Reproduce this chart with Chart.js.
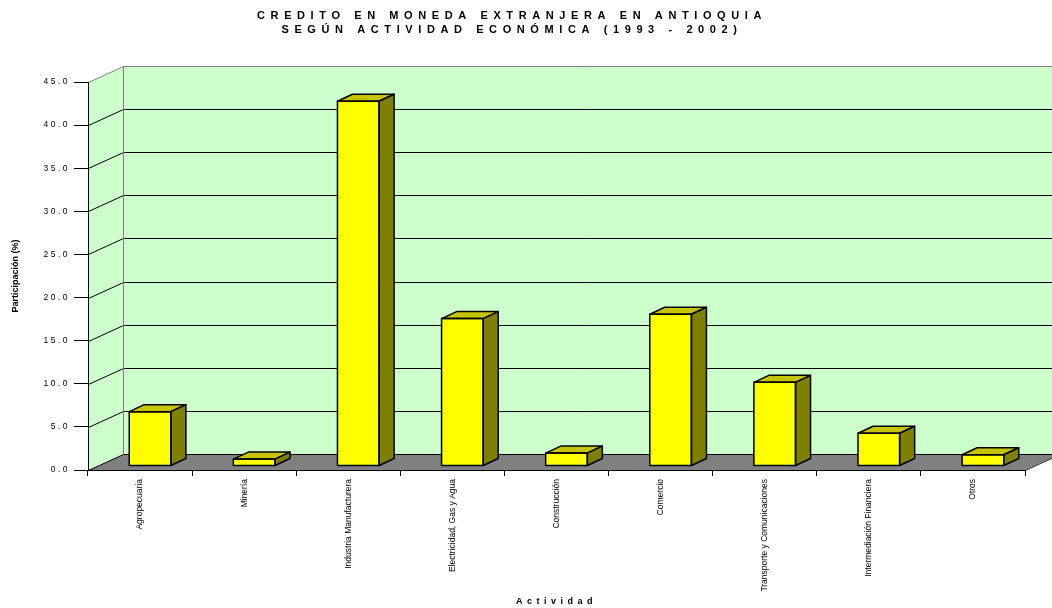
<!DOCTYPE html>
<html>
<head>
<meta charset="utf-8">
<title>Crédito en moneda extranjera en Antioquia</title>
<script src="https://cdn.jsdelivr.net/npm/chart.js"></script>
<style>
  html, body { margin: 0; padding: 0; background: #fff; }
</style>
</head>
<body>
<canvas id="chart" width="1052" height="608"></canvas>
<script>
// data
const categories = ['Agropecuaria', 'Minería', 'Industria Manufacturera', 'Electricidad, Gas y Agua',
  'Construcción', 'Comercio', 'Transporte y Comunicaciones', 'Intermediación Financiera', 'Otros'];
const participation = [6.3, 0.8, 42.3, 17.1, 1.5, 17.6, 9.7, 3.8, 1.3];
const titleLines = ['CREDITO EN MONEDA EXTRANJERA EN ANTIOQUIA', 'SEGÚN ACTIVIDAD ECONÓMICA (1993 - 2002)'];
const yMin = 0, yMax = 45, yStep = 5;

// look of the box
const FONT = 'Arial, "Liberation Sans", sans-serif';
const WALL = '#CCFFCC';
const FLOOR = '#808080';
const EDGE = '#808080';
const BAR_FRONT = '#FFFF00';
const BAR_TOP = '#C4C400';
const BAR_SIDE = '#808000';
const DX = 35, DY = -16;          // depth of the floor / walls
const BAR_SHIFT = [10, -4];       // bars sit a little behind the front edge
const BAR_DEPTH = [15, -7];

const px = v => Math.round(v) + 0.5;

// wraps a scale draw method so its text is spaced out
function spaceOut(scale, method, spacing) {
  const orig = scale[method];
  scale[method] = function (...args) {
    const ctx = this.ctx;
    const prev = ctx.letterSpacing;
    ctx.letterSpacing = spacing;
    orig.apply(this, args);
    ctx.letterSpacing = prev;
  };
}

const spacing = {
  id: 'spacing',
  afterLayout(chart) {
    const { x, y } = chart.scales;
    if (!y._spaced) { spaceOut(y, 'drawLabels', '2.5px'); y._spaced = true; }
    if (!x._spaced) { spaceOut(x, 'drawTitle', '4.5px'); x._spaced = true; }
  }
};

// walls, floor and grid behind the bars
const box3d = {
  id: 'box3d',
  beforeDraw(chart) {
    const { ctx, chartArea: a, scales: { y } } = chart;
    const W = chart.width;
    const L = px(a.left), R = px(a.right), T = px(a.top), B = px(a.bottom);
    ctx.save();
    ctx.lineWidth = 1;

    // back wall + side wall
    ctx.fillStyle = WALL;
    ctx.fillRect(L + DX, T + DY, W - (L + DX), B - T);
    ctx.beginPath();
    ctx.moveTo(L, T); ctx.lineTo(L + DX, T + DY); ctx.lineTo(L + DX, B + DY); ctx.lineTo(L, B);
    ctx.closePath(); ctx.fill();

    // floor
    ctx.fillStyle = FLOOR;
    ctx.beginPath();
    ctx.moveTo(L, B); ctx.lineTo(R, B); ctx.lineTo(R + DX, B + DY); ctx.lineTo(L + DX, B + DY);
    ctx.closePath(); ctx.fill();
    ctx.strokeStyle = '#404040';
    ctx.beginPath();
    ctx.moveTo(R, B); ctx.lineTo(R + DX, B + DY);
    ctx.stroke();

    // grid lines across side wall and back wall
    for (let v = yMin; v <= yMax; v += yStep) {
      const yy = px(y.getPixelForValue(v));
      ctx.strokeStyle = v === yMax ? EDGE : '#000';
      ctx.beginPath();
      ctx.moveTo(L, yy); ctx.lineTo(L + DX, yy + DY); ctx.lineTo(W, yy + DY);
      ctx.stroke();
    }

    // back corner edge
    ctx.strokeStyle = EDGE;
    ctx.beginPath();
    ctx.moveTo(L + DX, T + DY); ctx.lineTo(L + DX, B + DY);
    ctx.stroke();
    ctx.restore();
  },
  beforeDatasetDraw(chart) {
    chart.ctx.save();
    chart.ctx.translate(BAR_SHIFT[0], BAR_SHIFT[1]);
  },
  afterDatasetDraw(chart, args) {
    const ctx = chart.ctx;
    const [bx, by] = BAR_DEPTH;
    ctx.lineWidth = 1.5;
    ctx.lineJoin = 'round';
    ctx.strokeStyle = '#000';
    args.meta.data.forEach(bar => {
      const { x, y, base, width } = bar.getProps(['x', 'y', 'base', 'width'], true);
      const x0 = x - width / 2, x1 = x + width / 2;
      // top face
      ctx.fillStyle = BAR_TOP;
      ctx.beginPath();
      ctx.moveTo(x0, y); ctx.lineTo(x0 + bx, y + by); ctx.lineTo(x1 + bx, y + by); ctx.lineTo(x1, y);
      ctx.closePath(); ctx.fill(); ctx.stroke();
      // side face
      ctx.fillStyle = BAR_SIDE;
      ctx.beginPath();
      ctx.moveTo(x1, y); ctx.lineTo(x1 + bx, y + by); ctx.lineTo(x1 + bx, base + by); ctx.lineTo(x1, base);
      ctx.closePath(); ctx.fill(); ctx.stroke();
      // front outline
      ctx.strokeRect(x0, y, width, base - y);
    });
    ctx.restore();
  }
};

// two-line spaced title
const heading = {
  id: 'heading',
  afterDraw(chart) {
    const ctx = chart.ctx;
    ctx.save();
    ctx.font = 'bold 11px ' + FONT;
    ctx.letterSpacing = '5.6px';
    ctx.fillStyle = '#000';
    ctx.textAlign = 'center';
    ctx.textBaseline = 'middle';
    titleLines.forEach((line, i) => ctx.fillText(line, 512, 16 + i * 14));
    ctx.restore();
  }
};

new Chart(document.getElementById('chart'), {
  type: 'bar',
  data: {
    labels: categories,
    datasets: [{
      data: participation,
      backgroundColor: BAR_FRONT,
      borderWidth: 0,
      categoryPercentage: 1,
      barPercentage: 0.4,
      clip: false
    }]
  },
  options: {
    responsive: false,
    animation: false,
    layout: { padding: { top: 82, right: 27, bottom: 0, left: 0 } },
    plugins: { legend: { display: false }, tooltip: { enabled: false } },
    scales: {
      x: {
        grid: { offset: true, drawOnChartArea: false, drawTicks: true, tickLength: 6, color: '#000' },
        border: { color: '#000' },
        ticks: { autoSkip: false, minRotation: 90, maxRotation: 90, padding: 3, color: '#000',
          font: { family: FONT, size: 8.5 } },
        title: { display: true, text: 'Actividad', color: '#000', padding: { top: 0, bottom: 1 },
          font: { family: FONT, size: 9, weight: 'bold' } },
        afterFit: s => { s.height = 138; }
      },
      y: {
        min: yMin, max: yMax,
        grid: { drawOnChartArea: false, tickLength: 14, color: '#000' },
        border: { color: '#000' },
        ticks: { stepSize: yStep, padding: 4, color: '#000', font: { family: FONT, size: 8.5 },
          callback: v => v.toFixed(1) },
        title: { display: true, text: 'Participación (%)', color: '#000', padding: { top: 10, bottom: 0 },
          font: { family: FONT, size: 9, weight: 'bold' } },
        afterFit: s => { s.width = 88; }
      }
    }
  },
  plugins: [spacing, box3d, heading]
});
</script>
</body>
</html>
